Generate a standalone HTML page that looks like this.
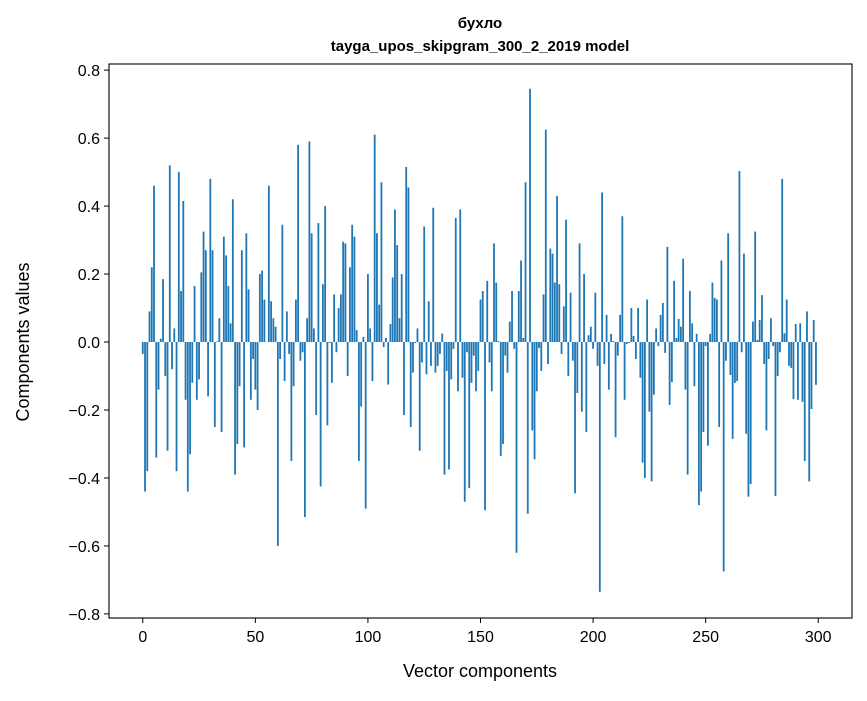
<!DOCTYPE html>
<html><head><meta charset="utf-8"><style>
body{margin:0;background:#fff;}
svg text{font-family:"Liberation Sans","DejaVu Sans",sans-serif;fill:#000;}
</style></head><body>
<svg id="chart" width="867" height="696" xmlns="http://www.w3.org/2000/svg">
<text x="480" y="28" font-size="15" font-weight="bold" text-anchor="middle" style="font-family:'Liberation Sans','DejaVu Sans',sans-serif">бухло</text>
<text x="480" y="51" font-size="15" font-weight="bold" text-anchor="middle">tayga_upos_skipgram_300_2_2019 model</text>
<g id="bars"></g>
<g id="axes"></g>
<text x="480" y="677" font-size="18" text-anchor="middle">Vector components</text>
<text transform="translate(29,342) rotate(-90)" font-size="18" text-anchor="middle">Components values</text>
</svg>
<script>
const values = [-0.035,-0.44,-0.38,0.09,0.22,0.46,-0.34,-0.14,0.01,0.185,-0.10,-0.32,0.52,-0.08,0.04,-0.38,0.50,0.15,0.415,-0.17,
-0.44,-0.33,-0.12,0.165,-0.17,-0.11,0.205,0.325,0.27,-0.16,0.48,0.27,-0.25,0.002,0.07,-0.265,0.31,0.255,0.165,0.055,
0.42,-0.39,-0.30,-0.13,0.27,-0.31,0.32,0.155,-0.17,-0.05,-0.14,-0.20,0.20,0.21,0.125,0.0,0.46,0.12,0.07,0.045,
-0.60,-0.05,0.345,-0.115,0.09,-0.035,-0.35,-0.13,0.125,0.58,-0.055,-0.03,-0.515,0.07,0.59,0.32,0.04,-0.215,0.35,-0.425,
0.17,0.40,-0.245,-0.003,-0.12,0.14,-0.03,0.10,0.14,0.295,0.29,-0.10,0.22,0.345,0.31,0.035,-0.35,-0.19,0.015,-0.49,
0.20,0.04,-0.115,0.61,0.32,0.11,0.47,-0.015,0.012,-0.125,0.053,0.19,0.39,0.285,0.07,0.20,-0.215,0.515,0.455,-0.25,
-0.09,-0.003,0.04,-0.32,-0.06,0.34,-0.095,0.12,-0.07,0.395,-0.09,-0.07,-0.035,0.025,-0.39,-0.085,-0.375,-0.11,-0.02,0.365,
-0.145,0.39,-0.105,-0.47,-0.03,-0.43,-0.12,-0.04,-0.145,-0.085,0.125,0.15,-0.495,0.18,-0.06,-0.145,0.29,0.175,0.003,-0.335,
-0.30,-0.04,-0.09,0.06,0.15,-0.02,-0.62,0.15,0.24,0.012,0.47,-0.505,0.745,-0.26,-0.345,-0.145,-0.018,-0.085,0.14,0.625,
-0.065,0.275,0.26,0.175,0.43,0.17,-0.035,0.105,0.36,-0.10,0.145,-0.055,-0.445,-0.15,0.29,-0.205,0.20,-0.265,0.02,0.045,
-0.02,0.145,-0.07,-0.735,0.44,-0.065,0.08,-0.14,0.024,0.003,-0.28,-0.04,0.08,0.37,-0.17,-0.006,-0.003,0.10,0.018,-0.05,
0.10,-0.105,-0.355,-0.40,0.125,-0.205,-0.41,-0.155,0.04,-0.012,0.08,0.115,-0.032,0.28,-0.185,-0.118,0.18,0.012,0.068,0.045,
0.245,-0.14,-0.39,0.15,0.055,-0.13,0.024,-0.48,-0.44,-0.265,-0.012,-0.305,0.024,0.175,0.13,0.125,-0.25,0.24,-0.675,-0.055,
0.32,-0.097,-0.285,-0.12,-0.115,0.503,-0.03,0.26,-0.27,-0.455,-0.418,0.06,0.325,0.006,0.065,0.138,-0.065,-0.26,-0.05,0.07,
-0.012,-0.453,-0.10,-0.03,0.48,0.026,0.125,-0.07,-0.076,-0.168,0.053,-0.17,0.055,-0.176,-0.35,0.09,-0.41,-0.197,0.065,-0.126];
const xTicks = [0,50,100,150,200,250,300];
const yTicks = [-0.8,-0.6,-0.4,-0.2,0.0,0.2,0.4,0.6,0.8];
const yTickLabels = ["\u22120.8","\u22120.6","\u22120.4","\u22120.2","0.0","0.2","0.4","0.6","0.8"];

const L=109,R=852,T=64,B=618;
const xMin=-15,xMax=315,yMin=-0.812,yMax=0.818;
const X=v=>L+(v-xMin)/(xMax-xMin)*(R-L);
const Y=v=>T+(yMax-v)/(yMax-yMin)*(B-T);
const NS="http://www.w3.org/2000/svg";
const bars=document.getElementById('bars');
values.forEach((v,i)=>{
  const r=document.createElementNS(NS,'rect');
  const x0=X(i-0.4),x1=X(i+0.4);
  const y0=Y(Math.max(v,0)),y1=Y(Math.min(v,0));
  r.setAttribute('x',x0);r.setAttribute('width',x1-x0);
  r.setAttribute('y',y0);r.setAttribute('height',Math.max(y1-y0,0.01));
  r.setAttribute('fill','#1f77b4');
  
  
  bars.appendChild(r);
});
const axes=document.getElementById('axes');
const frame=document.createElementNS(NS,'rect');
frame.setAttribute('x',L);frame.setAttribute('y',T);frame.setAttribute('width',R-L);frame.setAttribute('height',B-T);
frame.setAttribute('fill','none');frame.setAttribute('stroke','#000');frame.setAttribute('stroke-width','1.1');


axes.appendChild(frame);
xTicks.forEach(t=>{
  const l=document.createElementNS(NS,'line');
  l.setAttribute('x1',X(t));l.setAttribute('x2',X(t));l.setAttribute('y1',B);l.setAttribute('y2',B+5);l.setAttribute('stroke','#000');
  
  
  axes.appendChild(l);
  const tx=document.createElementNS(NS,'text');
  tx.setAttribute('x',X(t));tx.setAttribute('y',B+24);tx.setAttribute('font-size','16');tx.setAttribute('text-anchor','middle');
  tx.textContent=t;
  
  
  axes.appendChild(tx);
});
yTicks.forEach((t,i)=>{
  const l=document.createElementNS(NS,'line');
  l.setAttribute('x1',L-5);l.setAttribute('x2',L);l.setAttribute('y1',Y(t));l.setAttribute('y2',Y(t));l.setAttribute('stroke','#000');
  
  
  axes.appendChild(l);
  const tx=document.createElementNS(NS,'text');
  tx.setAttribute('x',L-9);tx.setAttribute('y',Y(t)+6);tx.setAttribute('font-size','16');tx.setAttribute('text-anchor','end');
  tx.textContent=yTickLabels[i];
  
  
  axes.appendChild(tx);
});
</script>
</body></html>
